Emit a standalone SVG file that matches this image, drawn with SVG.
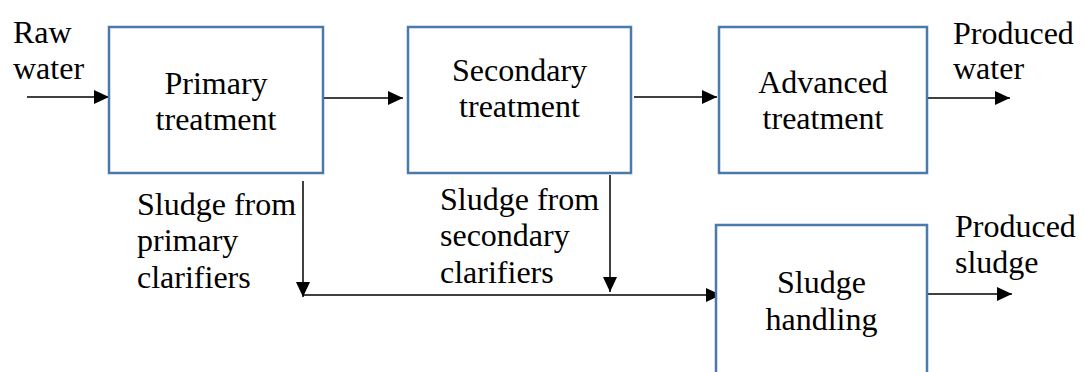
<svg xmlns="http://www.w3.org/2000/svg" width="1085" height="372" viewBox="0 0 1085 372">
<defs>
<style>
.box{fill:#ffffff;stroke:#4A7AAB;stroke-width:2.5}
.t{font-family:'Liberation Serif','DejaVu Serif',serif;font-size:32px;fill:#000}
.c{text-anchor:middle}
.ln{stroke:#000;stroke-width:1.5;fill:none;marker-end:url(#ah)}
</style>
<marker id="ah" markerUnits="userSpaceOnUse" markerWidth="16" markerHeight="15" refX="15" refY="7" orient="auto">
<path d="M0,0 L15,7 L0,14 z" fill="#000"/>
</marker>
</defs>
<rect width="1085" height="372" fill="#ffffff"/>
<g id="connectors">
<line class="ln" x1="27" y1="97" x2="109" y2="97"/>
<line class="ln" x1="320" y1="98" x2="403" y2="98"/>
<line class="ln" x1="634" y1="97" x2="717" y2="97"/>
<line class="ln" x1="928" y1="98" x2="1010" y2="98"/>
<line class="ln" x1="303" y1="181" x2="303" y2="297"/>
<line class="ln" x1="610" y1="175" x2="610" y2="292"/>
<line class="ln" x1="303" y1="295" x2="721" y2="295"/>
<line class="ln" x1="928" y1="294" x2="1012" y2="294"/>
</g>
<g id="primary">
<rect class="box" x="109" y="27" width="214" height="146"/>
<text class="t c" x="216" y="94" font-family="Liberation Serif, serif">Primary</text>
<text class="t c" x="216" y="130" font-family="Liberation Serif, serif">treatment</text>
</g>
<g id="secondary">
<rect class="box" x="408" y="27" width="223" height="146"/>
<text class="t c" x="519.5" y="81">Secondary</text>
<text class="t c" x="519.5" y="117">treatment</text>
</g>
<g id="advanced">
<rect class="box" x="719" y="27" width="208" height="146"/>
<text class="t c" x="823" y="93">Advanced</text>
<text class="t c" x="823" y="129">treatment</text>
</g>
<g id="sludge-handling">
<rect class="box" x="716" y="225" width="211" height="160"/>
<text class="t c" x="821.5" y="293">Sludge</text>
<text class="t c" x="821.5" y="330">handling</text>
</g>
<g id="labels">
<text class="t" x="13" y="43">Raw</text>
<text class="t" x="13" y="79">water</text>
<text class="t" x="953" y="44">Produced</text>
<text class="t" x="953" y="79">water</text>
<text class="t" x="137" y="215">Sludge from</text>
<text class="t" x="137" y="251">primary</text>
<text class="t" x="137" y="288">clarifiers</text>
<text class="t" x="440" y="210">Sludge from</text>
<text class="t" x="440" y="246">secondary</text>
<text class="t" x="440" y="283">clarifiers</text>
<text class="t" x="955" y="237">Produced</text>
<text class="t" x="955" y="273">sludge</text>
</g>
</svg>
